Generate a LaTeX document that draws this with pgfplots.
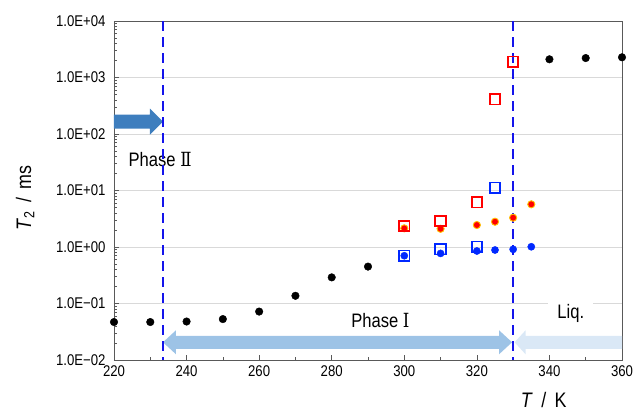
\documentclass[border=0pt]{standalone}
\usepackage{fontspec}
\setmainfont{Liberation Sans}[FakeStretch=0.85]
\newfontfamily\romfont{DejaVu Serif}[FakeStretch=0.85]
\usepackage{pgfplots}
\pgfplotsset{compat=1.18}

\definecolor{dashblue}{RGB}{20,20,235}
\definecolor{arrowdark}{RGB}{62,126,190}
\definecolor{arrowmid}{RGB}{157,195,230}
\definecolor{arrowlight}{RGB}{218,232,246}
\definecolor{ptblue}{RGB}{0,40,255}
\definecolor{ptred}{RGB}{255,0,0}
\definecolor{ptorange}{RGB}{255,192,0}
\definecolor{gridgray}{RGB}{217,217,217}
\definecolor{axisgray}{RGB}{89,89,89}

\begin{document}
\begin{tikzpicture}
\begin{axis}[
    name=ax,
    scale only axis,
    width=508pt,
    height=339pt,
    ymode=log,
    xmin=220, xmax=360,
    ymin=1e-2, ymax=1e4,
    clip=false,
    xtick={220,240,...,360},
    minor x tick num=1,
    ytick={1e-2,1e-1,1,10,100,1000,1e4},
    yticklabels={1.0E−02,1.0E−01,1.0E+00,1.0E+01,1.0E+02,1.0E+03,1.0E+04},
    ymajorgrids,
    major grid style={gridgray, line width=0.8pt},
    axis line style={axisgray, line width=0.8pt},
    tick style={axisgray, line width=0.6pt},
    xtick pos=bottom, ytick pos=left,
    tick align=inside,
    major tick length=5pt,
    minor tick length=3pt,
    tick label style={font=\fontsize{15.5}{18}\selectfont},
    /pgf/number format/assume math mode=true,
    xticklabel style={yshift=-2pt},
    yticklabel style={xshift=-5pt},
    ylabel={\textit{T}\textsubscript{2} \,/\, ms},
    ylabel style={at={(rel axis cs:-0.175,0.478)}, anchor=center, font=\fontsize{21}{24}\selectfont},
    xlabel={\textit{T} \,/\, K},
    xlabel style={at={(rel axis cs:0.846,-0.119)}, anchor=center, font=\fontsize{21}{24}\selectfont},
]
% labels
\node[font=\fontsize{19.5}{22}\selectfont] at (axis cs:232.7,34.7) {Phase {\romfont Ⅱ}};
\node[font=\fontsize{19.5}{22}\selectfont, fill=white, inner xsep=10pt, inner ysep=3pt] at (axis cs:293.4,0.051) {Phase {\romfont Ⅰ}};
\node[font=\fontsize{19.5}{22}\selectfont, fill=white, inner xsep=9pt, inner ysep=3pt] at (axis cs:345.9,0.068) {Liq.};

% arrows
\fill[arrowdark] ([yshift=7pt]axis cs:220,165) -- ([xshift=-13pt,yshift=7pt]axis cs:233.5,165)
  -- ([xshift=-13pt,yshift=13pt]axis cs:233.5,165) -- (axis cs:233.5,165)
  -- ([xshift=-13pt,yshift=-13pt]axis cs:233.5,165) -- ([xshift=-13pt,yshift=-7pt]axis cs:233.5,165)
  -- ([yshift=-7pt]axis cs:220,165) -- cycle;
\fill[arrowmid] (axis cs:233.5,0.0206) -- ([xshift=13pt,yshift=12pt]axis cs:233.5,0.0206)
  -- ([xshift=13pt,yshift=6.5pt]axis cs:233.5,0.0206) -- ([xshift=-13pt,yshift=6.5pt]axis cs:329.7,0.0206)
  -- ([xshift=-13pt,yshift=12pt]axis cs:329.7,0.0206) -- (axis cs:329.7,0.0206)
  -- ([xshift=-13pt,yshift=-12pt]axis cs:329.7,0.0206) -- ([xshift=-13pt,yshift=-6.5pt]axis cs:329.7,0.0206)
  -- ([xshift=13pt,yshift=-6.5pt]axis cs:233.5,0.0206) -- ([xshift=13pt,yshift=-12pt]axis cs:233.5,0.0206) -- cycle;
\fill[arrowlight] (axis cs:330.4,0.0206) -- ([xshift=11pt,yshift=12pt]axis cs:330.4,0.0206)
  -- ([xshift=11pt,yshift=6.5pt]axis cs:330.4,0.0206) -- ([yshift=6.5pt]axis cs:360,0.0206)
  -- ([yshift=-6.5pt]axis cs:360,0.0206) -- ([xshift=11pt,yshift=-6.5pt]axis cs:330.4,0.0206)
  -- ([xshift=11pt,yshift=-12pt]axis cs:330.4,0.0206) -- cycle;

% black dots
\addplot[only marks, mark=*, mark size=3.8pt, black] coordinates {
    (220,0.047) (230,0.047) (240,0.048) (250,0.053) (260,0.072) (270,0.137)
    (280,0.29) (290,0.45) (340,2100) (350,2210) (360,2280)
};
% blue dots
\addplot[only marks, mark=*, mark size=3.6pt, ptblue] coordinates {
    (300,0.70) (310,0.77) (320,0.85) (325,0.885) (330,0.91) (335,1.01)
};
% red dots with orange edge
\addplot[only marks, mark=*, mark size=3.6pt, mark options={fill=ptred, draw=ptorange, line width=0.9pt}] coordinates {
    (300,2.14) (310,2.1) (320,2.45) (325,2.8) (330,3.3) (335,5.7)
};
% red open squares
\addplot[only marks, mark=square, mark size=5.2pt, mark options={ptred, line width=1.8pt}] coordinates {
    (300,2.35) (310,2.9) (320,6.2) (325,411) (330,1900)
};
% blue open squares
\addplot[only marks, mark=square, mark size=5.2pt, mark options={ptblue, line width=1.8pt}] coordinates {
    (300,0.70) (310,0.91) (320,1.01) (325,11.2)
};

% phase boundaries
\addplot[dashblue, line width=2.5pt, dash pattern=on 10pt off 6pt] coordinates {(233.5,1e4) (233.5,1e-2)};
\addplot[dashblue, line width=2.5pt, dash pattern=on 10pt off 6pt] coordinates {(330,1e4) (330,1e-2)};
\end{axis}
\pgfresetboundingbox
\useasboundingbox ([shift={(-114pt,-53pt)}]ax.south west) rectangle ([shift={(11pt,21pt)}]ax.north east);
\end{tikzpicture}
\end{document}
